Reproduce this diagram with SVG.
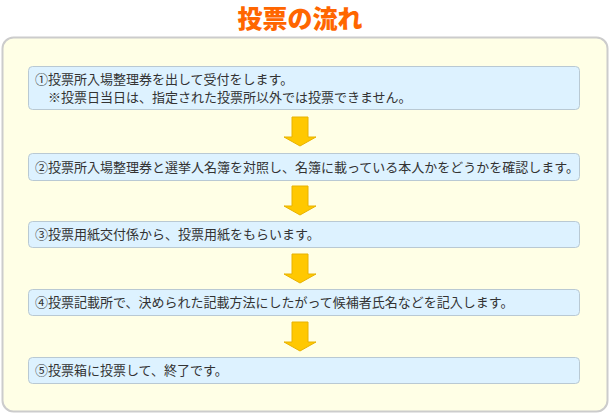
<svg xmlns="http://www.w3.org/2000/svg" width="611" height="415" viewBox="0 0 611 415">
<defs>
<style>
.t{font-family:"Noto Sans CJK JP","Noto Sans CJK SC",sans-serif;font-size:13px;fill:#333;}
.box{fill:#DDF2FF;stroke:#B9C9D3;stroke-width:1;}
.arr{fill:#FFC800;stroke:#E8B200;stroke-width:1;}
</style>
</defs>
<rect width="611" height="415" fill="#FFFFFF"/>
<text x="300" y="28" text-anchor="middle" style="font-family:'Noto Sans CJK JP',sans-serif;font-size:25px;font-weight:900;fill:#FF6600;">投票の流れ</text>
<rect id="frame" x="2.5" y="37.5" width="605" height="374" rx="11" fill="#FFFFE6" stroke="#CCCCCC" stroke-width="2"/>
<g id="node1"><rect class="box" x="28.5" y="66.5" width="551" height="43" rx="4"/>
<text class="t" x="35" y="84">①投票所入場整理券を出して受付をします。</text>
<text class="t" x="48" y="102">※投票日当日は、指定された投票所以外では投票できません。</text></g>
<g id="node2"><rect class="box" x="28.5" y="153.5" width="551" height="27" rx="4"/>
<text class="t" x="35" y="172">②投票所入場整理券と選挙人名簿を対照し、名簿に載っている本人かをどうかを確認します。</text></g>
<g id="node3"><rect class="box" x="28.5" y="221.5" width="551" height="26" rx="4"/>
<text class="t" x="35" y="239">③投票用紙交付係から、投票用紙をもらいます。</text></g>
<g id="node4"><rect class="box" x="28.5" y="289.5" width="551" height="26" rx="4"/>
<text class="t" x="35" y="307">④投票記載所で、決められた記載方法にしたがって候補者氏名などを記入します。</text></g>
<g id="node5"><rect class="box" x="28.5" y="357.5" width="551" height="26" rx="4"/>
<text class="t" x="35" y="375">⑤投票箱に投票して、終了です。</text></g>
<g id="connectors" class="arr">
<path transform="translate(0,117)" d="M292,0 H308 V20 H316 L300,29 L284,20 H292 Z"/>
<path transform="translate(0,186)" d="M292,0 H308 V20 H316 L300,29 L284,20 H292 Z"/>
<path transform="translate(0,254)" d="M292,0 H308 V20 H316 L300,29 L284,20 H292 Z"/>
<path transform="translate(0,322)" d="M292,0 H308 V20 H316 L300,29 L284,20 H292 Z"/>
</g>
</svg>
